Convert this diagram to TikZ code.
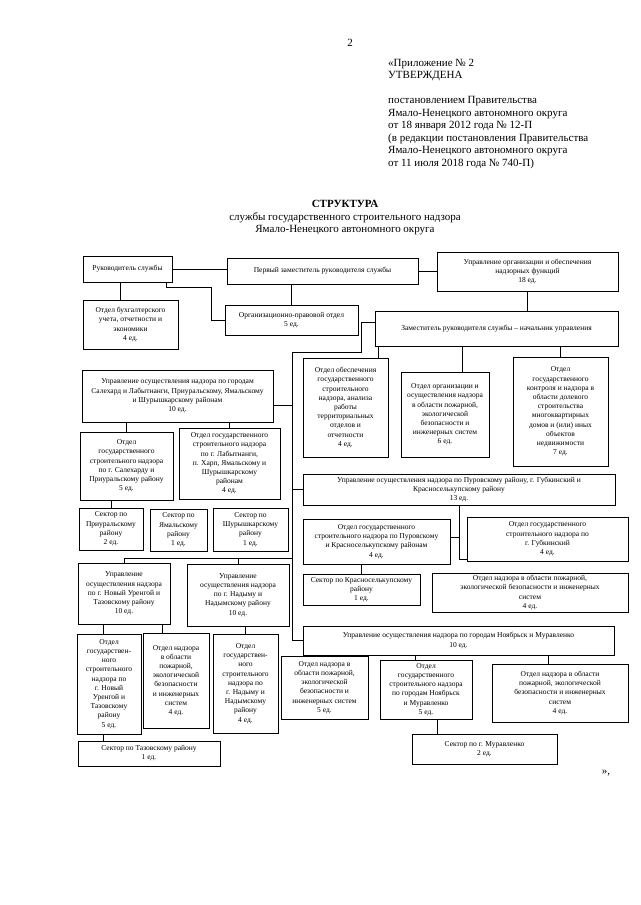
\documentclass[tikz,border=0pt]{standalone}
\usepackage{fontspec}
\setmainfont{Liberation Serif}
\tikzset{
	box/.style={draw=black, line width=1pt, fill=white, align=center, inner xsep=2pt, inner ysep=1pt, font=\fontsize{7.5}{9.2}\selectfont},
	bx/.style 2 args={box, minimum width=#1, minimum height=#2},
	con/.style={draw=black, line width=0.6pt}
}
\begin{document}
\begin{tikzpicture}[x=1pt, y=-1pt]
	\useasboundingbox (0, 0) rectangle (640, 905);
	% Seitenzahl und Kopf
	\node (seite) at (350, 43) {\fontsize{11}{13}\selectfont 2};
	\node[anchor=north west, align=left, inner sep=0pt, font=\fontsize{11}{12.5}\selectfont] (kopf) at (388, 59) {«Приложение №~2\\УТВЕРЖДЕНА\\[12.5pt]постановлением Правительства\\Ямало-Ненецкого автономного округа\\от 18 января 2012 года № 12-П\\(в редакции постановления Правительства\\Ямало-Ненецкого автономного округа\\от 11 июля 2018 года № 740-П)};
	\node[align=center, font=\fontsize{11}{12.5}\selectfont] (titel) at (345, 218) {\textbf{СТРУКТУРА}\\службы государственного строительного надзора\\Ямало-Ненецкого автономного округа};
	% Leitung
	\node[bx={89pt}{26pt}] (ruk) at (127.5, 269) {Руководитель службы};
	\node[bx={191pt}{26pt}] (perv) at (322.5, 271) {Первый заместитель руководителя службы};
	\node[bx={181pt}{39pt}] (uorg) at (527.5, 271.5) {Управление организации и обеспечения\\надзорных функций\\18 ед.};
	\node[bx={95pt}{49pt}] (buh) at (130.5, 324.5) {Отдел бухгалтерского\\учета, отчетности и\\экономики\\4 ед.};
	\node[bx={133pt}{30pt}] (orgprav) at (291.5, 320) {Организационно-правовой отдел\\5 ед.};
	\node[bx={243pt}{35pt}] (zam) at (496.5, 328.5) {Заместитель руководителя службы – начальник управления};
	% Abteilungen unter dem Stellvertreter
	\node[bx={85pt}{99pt}] (otd1) at (345.5, 407.5) {Отдел обеспечения\\государственного\\строительного\\надзора, анализа\\работы\\территориальных\\отделов и\\отчетности\\4 ед.};
	\node[bx={88pt}{85pt}] (otd2) at (445, 414.5) {Отдел организации и\\осуществления надзора\\в области пожарной,\\экологической\\безопасности и\\инженерных систем\\6 ед.};
	\node[bx={95pt}{109pt}] (otd3) at (560.5, 411.5) {Отдел\\государственного\\контроля и надзора в\\области долевого\\строительства\\многоквартирных\\домов и (или) иных\\объектов\\недвижимости\\7 ед.};
	% Salechard
	\node[bx={191pt}{52pt}] (sal) at (177.5, 396) {Управление осуществления надзора по городам\\Салехард и Лабытнанги, Приуральскому, Ямальскому\\и Шурышкарскому районам\\10 ед.};
	\node[bx={93pt}{68pt}] (sal1) at (126.5, 466) {Отдел\\государственного\\строительного надзора\\по г. Салехарду и\\Приуральскому району\\5 ед.};
	\node[bx={101pt}{71pt}] (sal2) at (229.5, 463.5) {Отдел государственного\\строительного надзора\\по г. Лабытнанги,\\п. Харп, Ямальскому и\\Шурышкарскому\\районам\\4 ед.};
	\node[bx={64pt}{42pt}] (sek1) at (111, 529) {Сектор по\\Приуральскому\\району\\2 ед.};
	\node[bx={57pt}{42pt}] (sek2) at (178.5, 530) {Сектор по\\Ямальскому\\району\\1 ед.};
	\node[bx={75pt}{43pt}] (sek3) at (250.5, 529.5) {Сектор по\\Шурышкарскому\\району\\1 ед.};
	% Purowski
	\node[bx={312pt}{31pt}] (pur) at (459, 489.5) {Управление осуществления надзора по Пуровскому району, г. Губкинский и\\Красноселькупскому району\\13 ед.};
	\node[bx={147pt}{45pt}] (pur1) at (376.5, 541.5) {Отдел государственного\\строительного надзора по Пуровскому\\и Красноселькупскому районам\\4 ед.};
	\node[bx={161pt}{44pt}] (pur2) at (547.5, 539) {Отдел государственного\\строительного надзора по\\г. Губкинский\\4 ед.};
	\node[bx={117pt}{31pt}] (pur3) at (361.5, 589.5) {Сектор по Красноселькупскому\\району\\1 ед.};
	\node[bx={196pt}{39pt}] (pur4) at (530, 592.5) {Отдел надзора в области пожарной,\\экологической безопасности и инженерных\\систем\\4 ед.};
	% Nowy Urengoi und Nadym
	\node[bx={92pt}{61pt}] (nu) at (124, 593.5) {Управление\\осуществления надзора\\по г. Новый Уренгой и\\Тазовскому району\\10 ед.};
	\node[bx={102pt}{62pt}] (nad) at (238, 595) {Управление\\осуществления надзора\\по г. Надыму и\\Надымскому району\\10 ед.};
	\node[bx={64pt}{100pt}] (nu1) at (109, 684) {Отдел\\государствен-\\ного\\строительного\\надзора по\\г. Новый\\Уренгой и\\Тазовскому\\району\\5 ед.};
	\node[bx={66pt}{95pt}] (nu2) at (176, 680.5) {Отдел надзора\\в области\\пожарной,\\экологической\\безопасности\\и инженерных\\систем\\4 ед.};
	\node[bx={65pt}{99pt}] (nad1) at (245.5, 683.5) {Отдел\\государствен-\\ного\\строительного\\надзора по\\г. Надыму и\\Надымскому\\району\\4 ед.};
	\node[bx={142pt}{25pt}] (taz) at (149, 753.5) {Сектор по Тазовскому району\\1 ед.};
	% Nojabrsk
	\node[bx={311pt}{29pt}] (noy) at (458.5, 640.5) {Управление осуществления надзора по городам Ноябрьск и Муравленко\\10 ед.};
	\node[bx={87pt}{63pt}] (noy1) at (324.5, 687.5) {Отдел надзора в\\области пожарной,\\экологической\\безопасности и\\инженерных систем\\5 ед.};
	\node[bx={92pt}{59pt}] (noy2) at (426, 689.5) {Отдел\\государственного\\строительного надзора\\по городам Ноябрьск\\и Муравленко\\5 ед.};
	\node[bx={136pt}{58pt}] (noy3) at (560, 693) {Отдел надзора в области\\пожарной, экологической\\безопасности и инженерных\\систем\\4 ед.};
	\node[bx={145pt}{30pt}] (mur) at (484.5, 749) {Сектор по г. Муравленко\\2 ед.};
	\node (ende) at (606, 773) {\fontsize{11}{13}\selectfont »,};
	% Verbindungen oben
	\draw[con] (ruk.east) -- (ruk.east -| perv.west);
	\draw[con] (perv.east) -- (perv.east -| uorg.west);
	\draw[con] ([xshift=-10pt]buh.north) -- ([xshift=-10pt]buh.north |- ruk.south);
	\draw[con] (orgprav.north) -- (orgprav.north |- perv.south);
	\draw[con] ([xshift=-6pt]ruk.south east) -- ++(0, 5) -- ++(45, 0) |- (orgprav.west);
	\draw[con] (uorg.south) -- (uorg.south |- zam.north);
	\draw[con] ([xshift=33pt]otd1.north) -- ([xshift=33pt]otd1.north |- zam.south);
	\draw[con] ([xshift=17pt]otd2.north) -- ([xshift=17pt]otd2.north |- zam.south);
	\draw[con] (otd3.north) -- (otd3.north |- zam.south);
	% Stammlinie links
	\coordinate (stamm) at (292, 352);
	\draw[con] ([yshift=6pt]zam.west) -- ++(-13, 0) |- (stamm) -- (stamm |- noy.west) -- (noy.west);
	\draw[con] ([yshift=-9pt]sal.east) -- ([yshift=-9pt]sal.east -| stamm);
	\draw[con] (pur.west) -- (pur.west -| stamm);
	\coordinate (nord) at (124, 558);
	\draw[con] (stamm |- nord) -- (nord) -- (nu.north);
	\draw[con] (nad.north) -- (nad.north |- nord);
	% Verbindungen unten
	\draw[con] (sal1.north) -- (sal1.north |- sal.south);
	\draw[con] (sal2.north) -- (sal2.north |- sal.south);
	\draw[con] (sek1.north) -- (sek1.north |- sal1.south);
	\draw[con] ([xshift=-6pt]nu1.north) -- ([xshift=-6pt]nu1.north |- nu.south);
	\draw[con] ([xshift=-14pt]nu2.north) -- ([xshift=-14pt]nu2.north |- nu.south);
	\draw[con] (nad1.north) -- (nad1.north |- nad.south);
	\draw[con] ([xshift=-6pt]nu1.south) -- ([xshift=-6pt]nu1.south |- taz.north);
	\draw[con] (pur.south) |- ([yshift=-20pt]pur2.west);
	\draw[con] ([yshift=4pt]pur1.east) -- ([yshift=4pt]pur1.east -| pur.south);
	\draw[con] (pur3.north) -- (pur3.north |- pur1.south);
	\draw[con] ([xshift=-11pt]noy2.north) -- ([xshift=-11pt]noy2.north |- noy.south);
	\draw[con] ([xshift=-12pt]noy3.north) -- ([xshift=-12pt]noy3.north |- noy.south);
	\draw[con] ([xshift=11pt]noy2.south) -- ([xshift=11pt]noy2.south |- mur.north);
\end{tikzpicture}
\end{document}
